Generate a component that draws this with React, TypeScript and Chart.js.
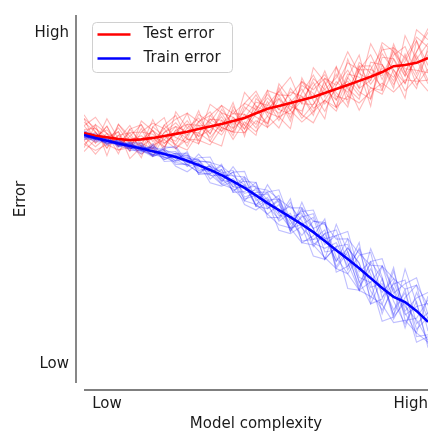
import React, { useEffect, useRef } from "react";
import { Chart, registerables } from "chart.js";

Chart.register(...registerables);

// Model complexity steps (x index)
const complexity: number[] = Array.from({ length: 31 }, (_, i) => i);

// Mean curves
const testErrorMean: number[] = [6.79, 6.72, 6.68, 6.63, 6.60, 6.62, 6.66, 6.71, 6.77, 6.83, 6.90, 6.97, 7.04, 7.12, 7.20, 7.33, 7.45, 7.53, 7.61, 7.69, 7.77, 7.88, 7.99, 8.10, 8.21, 8.32, 8.45, 8.61, 8.64, 8.70, 8.83];
const trainErrorMean: number[] = [6.74, 6.66, 6.58, 6.51, 6.44, 6.37, 6.30, 6.22, 6.14, 6.04, 5.92, 5.79, 5.65, 5.48, 5.30, 5.10, 4.89, 4.70, 4.51, 4.31, 4.10, 3.86, 3.61, 3.37, 3.12, 2.85, 2.58, 2.34, 2.20, 1.96, 1.66];

// Individual test-error realisations
const testRun1 = [6.99, 6.62, 6.98, 6.43, 6.70, 7.02, 6.56, 6.91, 6.47, 6.93, 7.20, 6.77, 7.44, 7.02, 7.40, 7.83, 7.25, 7.83, 7.21, 7.89, 8.37, 7.78, 8.39, 7.80, 8.71, 8.42, 8.05, 9.21, 8.44, 9.00, 9.53];
const testRun2 = [6.59, 6.82, 6.38, 6.73, 6.40, 6.52, 6.86, 6.41, 6.87, 6.63, 6.50, 7.17, 6.94, 6.82, 7.30, 7.03, 7.65, 7.13, 7.71, 7.19, 7.57, 8.18, 7.49, 8.30, 7.91, 7.72, 8.65, 8.21, 8.94, 8.10, 8.53];
const testRun3 = [6.79, 7.02, 6.78, 6.43, 6.90, 6.52, 6.36, 6.81, 7.07, 6.73, 7.10, 7.37, 6.84, 7.42, 6.90, 7.43, 7.85, 7.43, 7.91, 7.79, 7.37, 8.08, 8.59, 8.00, 7.71, 8.72, 8.65, 8.11, 8.74, 9.30, 8.63];
const testRun4 = [6.69, 6.42, 6.68, 6.83, 6.30, 6.82, 6.76, 6.51, 6.77, 7.13, 6.70, 6.87, 7.24, 6.72, 7.50, 7.23, 7.05, 7.73, 7.41, 8.09, 7.87, 7.38, 8.09, 8.50, 8.01, 8.22, 8.95, 8.51, 8.14, 8.90, 8.23];
const testRun5 = [7.09, 6.82, 6.48, 6.73, 6.80, 6.32, 6.96, 6.71, 6.57, 7.03, 7.00, 6.67, 7.04, 7.32, 7.30, 6.93, 7.55, 7.93, 7.51, 7.39, 8.07, 8.38, 7.79, 7.70, 8.51, 8.92, 8.25, 8.91, 9.14, 8.40, 9.03];
const testRun6 = [6.49, 6.72, 6.88, 6.53, 6.60, 6.72, 6.46, 7.01, 6.67, 6.53, 7.00, 6.97, 6.74, 7.22, 7.00, 7.53, 7.35, 7.23, 8.01, 7.59, 7.57, 7.98, 7.69, 8.40, 8.31, 8.02, 7.95, 8.81, 8.34, 8.80, 9.23];
const testRun7 = [6.89, 6.92, 6.58, 6.93, 6.50, 6.62, 6.86, 6.61, 6.97, 6.83, 6.80, 7.17, 7.14, 6.92, 7.20, 7.63, 7.55, 7.33, 7.61, 7.99, 7.47, 7.68, 8.19, 7.90, 8.61, 8.12, 8.55, 8.31, 8.84, 8.30, 8.93];
const testRun8 = [6.79, 6.52, 6.78, 6.63, 7.00, 6.42, 6.66, 6.41, 6.87, 7.03, 6.60, 7.07, 6.84, 7.12, 6.80, 7.33, 7.75, 7.43, 7.31, 7.69, 8.17, 7.58, 7.99, 8.20, 7.81, 8.52, 8.35, 9.01, 8.54, 8.50, 8.43];
const testRun9 = [7.19, 6.92, 6.68, 6.53, 6.80, 6.82, 7.06, 6.91, 7.17, 7.33, 7.10, 7.27, 7.54, 7.32, 7.60, 7.43, 7.95, 7.83, 7.81, 8.19, 7.97, 8.28, 8.09, 8.70, 8.51, 8.52, 9.05, 9.11, 8.84, 9.40, 9.13];
const testRun10 = [6.49, 6.32, 6.48, 6.33, 6.50, 6.22, 6.46, 6.61, 6.37, 6.63, 6.60, 6.47, 6.94, 6.82, 6.80, 7.13, 6.95, 7.23, 7.41, 7.09, 7.37, 7.68, 7.49, 7.80, 7.61, 7.92, 8.15, 7.91, 8.24, 8.20, 8.23];
const testRun11 = [7.19, 6.52, 7.18, 6.63, 6.30, 7.12, 6.86, 6.31, 7.37, 6.93, 6.70, 7.57, 7.34, 6.82, 7.90, 7.53, 6.95, 8.13, 7.71, 7.29, 8.57, 8.18, 7.49, 8.80, 8.01, 9.22, 8.65, 8.01, 9.44, 8.80, 8.13];
const testRun12 = [6.39, 7.02, 6.18, 7.03, 6.60, 6.12, 6.96, 7.21, 6.37, 6.73, 7.40, 6.57, 6.44, 7.52, 7.00, 6.73, 7.95, 7.23, 6.91, 8.29, 7.67, 7.18, 8.59, 7.60, 8.51, 7.52, 9.15, 8.41, 7.74, 9.30, 8.43];
const testRun13 = [6.99, 7.22, 6.78, 6.23, 6.90, 7.02, 6.36, 7.01, 7.27, 6.63, 7.30, 7.07, 7.54, 6.92, 7.60, 7.93, 7.35, 7.93, 8.31, 7.59, 8.27, 7.98, 8.29, 9.00, 8.41, 8.22, 9.25, 9.01, 8.34, 9.60, 9.33];
const testRun14 = [6.59, 6.22, 6.58, 6.83, 6.10, 6.42, 6.16, 6.71, 6.47, 6.33, 6.80, 6.57, 7.14, 6.62, 7.10, 6.83, 7.25, 6.93, 7.61, 7.29, 7.07, 7.68, 7.39, 8.10, 7.41, 8.02, 7.85, 8.51, 7.94, 8.30, 7.93];
const testRun15 = [7.29, 6.82, 6.38, 7.03, 6.70, 6.42, 7.16, 6.51, 6.77, 7.33, 6.50, 7.27, 6.94, 7.62, 6.70, 7.73, 7.45, 7.73, 7.11, 8.19, 7.77, 8.48, 7.69, 8.30, 8.91, 7.72, 8.85, 8.81, 8.14, 9.00, 9.63];
const testRun16 = [6.29, 6.62, 6.98, 6.33, 6.40, 6.92, 6.26, 6.81, 6.97, 6.43, 7.10, 6.77, 7.34, 7.22, 6.90, 7.43, 7.05, 8.03, 7.41, 7.79, 7.27, 8.28, 7.89, 7.50, 8.61, 8.62, 7.95, 9.11, 8.44, 8.00, 9.13];

// Individual train-error realisations
const trainRun1 = [6.79, 6.63, 6.64, 6.46, 6.48, 6.45, 6.25, 6.32, 6.02, 6.10, 6.07, 5.69, 5.90, 5.40, 5.48, 5.45, 4.74, 4.95, 4.16, 4.51, 4.60, 3.76, 4.01, 3.07, 3.67, 2.95, 2.13, 3.04, 1.95, 2.31, 2.46];
const trainRun2 = [6.70, 6.68, 6.51, 6.54, 6.39, 6.35, 6.38, 6.07, 6.19, 5.94, 5.72, 5.89, 5.57, 5.23, 5.38, 4.85, 5.04, 4.40, 4.61, 3.86, 3.90, 4.16, 3.11, 3.57, 2.77, 2.15, 2.83, 1.84, 2.55, 1.26, 1.31];
const trainRun3 = [6.74, 6.73, 6.60, 6.46, 6.51, 6.34, 6.18, 6.27, 6.29, 5.99, 6.02, 6.01, 5.50, 5.73, 5.05, 5.18, 5.19, 4.62, 4.81, 4.41, 3.70, 4.06, 4.16, 3.27, 2.52, 3.30, 2.83, 1.74, 2.32, 2.66, 1.41];
const trainRun4 = [6.72, 6.59, 6.58, 6.56, 6.37, 6.42, 6.35, 6.12, 6.14, 6.19, 5.82, 5.74, 5.80, 5.18, 5.55, 5.02, 4.59, 4.85, 4.31, 4.71, 4.20, 3.36, 3.71, 3.77, 2.87, 2.73, 3.18, 2.22, 1.60, 2.21, 0.96];
const trainRun5 = [6.81, 6.68, 6.53, 6.53, 6.49, 6.30, 6.45, 6.22, 6.04, 6.14, 5.97, 5.64, 5.65, 5.63, 5.38, 4.80, 4.97, 5.00, 4.41, 4.01, 4.40, 4.36, 3.41, 2.97, 3.47, 3.55, 2.33, 2.69, 2.80, 1.61, 1.91];
const trainRun6 = [6.67, 6.66, 6.63, 6.49, 6.44, 6.39, 6.20, 6.37, 6.09, 5.89, 5.97, 5.79, 5.40, 5.56, 5.15, 5.25, 4.81, 4.45, 4.91, 4.21, 3.90, 3.96, 3.31, 3.67, 3.24, 2.50, 1.98, 2.59, 1.85, 2.08, 2.16];
const trainRun7 = [6.76, 6.71, 6.56, 6.58, 6.42, 6.37, 6.40, 6.17, 6.24, 6.04, 5.87, 5.89, 5.73, 5.33, 5.30, 5.35, 4.97, 4.55, 4.51, 4.61, 3.80, 3.66, 3.81, 3.17, 3.62, 2.60, 2.70, 1.99, 2.45, 1.46, 1.78];
const trainRun8 = [6.74, 6.61, 6.60, 6.51, 6.54, 6.32, 6.30, 6.07, 6.19, 6.14, 5.77, 5.84, 5.50, 5.48, 5.00, 5.10, 5.14, 4.62, 4.21, 4.31, 4.50, 3.56, 3.61, 3.47, 2.62, 3.10, 2.46, 2.84, 2.08, 1.71, 1.16];
const trainRun9 = [6.78, 6.71, 6.60, 6.54, 6.49, 6.41, 6.40, 6.34, 6.22, 6.19, 6.04, 5.99, 5.90, 5.63, 5.60, 5.30, 5.24, 5.00, 4.76, 4.76, 4.40, 4.31, 3.91, 3.92, 3.52, 3.20, 3.18, 2.84, 2.55, 2.66, 2.11];
const trainRun10 = [6.69, 6.62, 6.53, 6.48, 6.38, 6.32, 6.20, 6.14, 5.99, 5.94, 5.72, 5.67, 5.40, 5.28, 4.95, 4.85, 4.59, 4.30, 4.21, 3.81, 3.75, 3.41, 3.11, 2.97, 2.52, 2.35, 2.13, 1.64, 1.70, 1.36, 1.11];
const trainRun11 = [6.84, 6.61, 6.70, 6.43, 6.54, 6.52, 6.20, 6.42, 6.39, 5.89, 6.22, 5.89, 5.45, 5.88, 5.45, 4.80, 5.39, 4.90, 4.11, 4.91, 4.20, 3.36, 4.31, 3.57, 2.52, 3.65, 2.88, 1.84, 3.10, 2.16, 1.06];
const trainRun12 = [6.64, 6.74, 6.46, 6.61, 6.39, 6.22, 6.45, 6.02, 6.04, 6.29, 5.67, 5.69, 5.95, 5.18, 5.20, 5.45, 4.49, 4.50, 5.01, 3.81, 4.00, 4.46, 3.01, 3.17, 3.82, 2.15, 2.28, 3.14, 1.70, 1.76, 2.26];
const trainRun13 = [6.79, 6.78, 6.64, 6.41, 6.52, 6.49, 6.18, 6.37, 6.44, 5.99, 6.12, 6.14, 5.55, 5.73, 5.75, 4.95, 5.19, 5.25, 4.41, 4.66, 4.70, 3.91, 4.01, 4.12, 3.02, 3.30, 3.38, 2.44, 2.70, 2.86, 1.86];
const trainRun14 = [6.69, 6.56, 6.55, 6.57, 6.32, 6.32, 6.15, 6.27, 5.89, 5.74, 5.97, 5.44, 5.35, 5.48, 4.85, 4.70, 4.94, 4.15, 4.06, 4.26, 3.45, 3.36, 3.71, 2.57, 2.52, 2.75, 1.68, 1.79, 2.20, 1.11, 1.26];
const trainRun15 = [6.86, 6.69, 6.50, 6.61, 6.44, 6.27, 6.50, 6.12, 6.24, 6.24, 5.67, 5.94, 5.70, 5.78, 4.95, 5.30, 4.89, 5.10, 4.11, 4.56, 4.20, 4.36, 3.16, 3.67, 3.27, 2.30, 3.18, 2.54, 1.50, 2.46, 1.76];
const trainRun16 = [6.62, 6.64, 6.68, 6.45, 6.36, 6.45, 6.15, 6.32, 5.94, 5.94, 6.07, 5.54, 5.80, 5.33, 5.60, 4.80, 4.74, 5.00, 4.21, 4.76, 3.75, 4.06, 3.31, 3.92, 2.72, 3.25, 1.88, 2.74, 1.90, 1.36, 2.36];

const testRuns = [testRun1, testRun2, testRun3, testRun4, testRun5, testRun6, testRun7, testRun8, testRun9, testRun10, testRun11, testRun12, testRun13, testRun14, testRun15, testRun16];
const trainRuns = [trainRun1, trainRun2, trainRun3, trainRun4, trainRun5, trainRun6, trainRun7, trainRun8, trainRun9, trainRun10, trainRun11, trainRun12, trainRun13, trainRun14, trainRun15, trainRun16];

// Axis tick labels
const xTickValues = [2, 28.5];
const xTickLabels = ["Low", "High"];
const yTickValues = [0.5, 9.5];
const yTickLabels = ["Low", "High"];

const legendLabels = ["Test error", "Train error"];
const legendColors = ["#ff0000", "#0000ff"];

const FONT = "'DejaVu Sans', sans-serif";

const toPoints = (arr: number[]) => arr.map((v, i) => ({ x: complexity[i], y: v }));

export default function App() {
  const ref = useRef<HTMLCanvasElement | null>(null);

  useEffect(() => {
    document.body.style.margin = "0";
    const canvas = ref.current;
    if (!canvas) return;

    const datasets: any[] = [];
    testRuns.forEach((r) =>
      datasets.push({
        data: toPoints(r),
        borderColor: "rgba(255,0,0,0.27)",
        borderWidth: 1.1,
        pointRadius: 0,
        order: 4,
      })
    );
    trainRuns.forEach((r) =>
      datasets.push({
        data: toPoints(r),
        borderColor: "rgba(0,0,255,0.25)",
        borderWidth: 1.1,
        pointRadius: 0,
        order: 3,
      })
    );
    datasets.push({
      label: legendLabels[0],
      data: toPoints(testErrorMean),
      borderColor: legendColors[0],
      borderWidth: 2.6,
      pointRadius: 0,
      order: 2,
    });
    datasets.push({
      label: legendLabels[1],
      data: toPoints(trainErrorMean),
      borderColor: legendColors[1],
      borderWidth: 2.6,
      pointRadius: 0,
      order: 1,
    });

    const spinesAndLegend = {
      id: "spinesAndLegend",
      afterDraw(chart: any) {
        const { ctx, chartArea } = chart;
        ctx.save();
        // offset spines
        ctx.strokeStyle = "#555555";
        ctx.lineWidth = 1.4;
        ctx.beginPath();
        ctx.moveTo(chartArea.left - 8, chartArea.top);
        ctx.lineTo(chartArea.left - 8, chartArea.bottom);
        ctx.moveTo(chartArea.left, chartArea.bottom + 7);
        ctx.lineTo(chartArea.right, chartArea.bottom + 7);
        ctx.stroke();

        // legend
        const bx = chartArea.left + 8.5;
        const by = chartArea.top + 7.5;
        const bw = 140;
        const bh = 50;
        const r = 4;
        ctx.beginPath();
        ctx.moveTo(bx + r, by);
        ctx.lineTo(bx + bw - r, by);
        ctx.arcTo(bx + bw, by, bx + bw, by + r, r);
        ctx.lineTo(bx + bw, by + bh - r);
        ctx.arcTo(bx + bw, by + bh, bx + bw - r, by + bh, r);
        ctx.lineTo(bx + r, by + bh);
        ctx.arcTo(bx, by + bh, bx, by + bh - r, r);
        ctx.lineTo(bx, by + r);
        ctx.arcTo(bx, by, bx + r, by, r);
        ctx.closePath();
        ctx.fillStyle = "rgba(255,255,255,0.85)";
        ctx.fill();
        ctx.strokeStyle = "#d0d0d0";
        ctx.lineWidth = 1;
        ctx.stroke();

        ctx.font = `15px ${FONT}`;
        ctx.textBaseline = "middle";
        ctx.textAlign = "left";
        legendLabels.forEach((lab, k) => {
          const ly = by + 12 + k * 24;
          ctx.strokeStyle = legendColors[k];
          ctx.lineWidth = 2.5;
          ctx.beginPath();
          ctx.moveTo(bx + 5, ly);
          ctx.lineTo(bx + 38, ly);
          ctx.stroke();
          ctx.fillStyle = "#1a1a1a";
          ctx.fillText(lab, bx + 51, ly);
        });
        ctx.restore();
      },
    };

    const chart = new Chart(canvas, {
      type: "line",
      data: { datasets },
      options: {
        animation: false,
        responsive: false,
        maintainAspectRatio: false,
        devicePixelRatio: 1,
        layout: { padding: { top: 15, left: 0, right: 0, bottom: 0 } },
        plugins: {
          legend: { display: false },
          tooltip: { enabled: false },
        },
        elements: { line: { tension: 0 } },
        scales: {
          x: {
            type: "linear",
            min: 0,
            max: 30,
            grid: { display: false, drawTicks: false },
            border: { display: false },
            afterFit(scale: any) {
              scale.height = 50;
              scale.paddingLeft = 0;
              scale.paddingRight = 0;
            },
            afterBuildTicks(scale: any) {
              scale.ticks = xTickValues.map((v) => ({ value: v }));
            },
            ticks: {
              autoSkip: false,
              maxRotation: 0,
              padding: 12,
              color: "#1a1a1a",
              font: { family: FONT, size: 15 },
              callback: (v: any) => {
                const idx = xTickValues.indexOf(Number(v));
                return idx >= 0 ? xTickLabels[idx] : "";
              },
            },
            title: {
              display: true,
              text: "Model complexity",
              color: "#1a1a1a",
              font: { family: FONT, size: 15 },
              padding: { top: 0, bottom: 0 },
            },
          },
          y: {
            type: "linear",
            min: 0,
            max: 10,
            grid: { display: false, drawTicks: false },
            border: { display: false },
            afterFit(scale: any) {
              scale.width = 84;
              scale.paddingTop = 0;
              scale.paddingBottom = 0;
            },
            afterBuildTicks(scale: any) {
              scale.ticks = yTickValues.map((v) => ({ value: v }));
            },
            ticks: {
              autoSkip: false,
              padding: 15,
              color: "#1a1a1a",
              font: { family: FONT, size: 15 },
              callback: (v: any) => {
                const idx = yTickValues.indexOf(Number(v));
                return idx >= 0 ? yTickLabels[idx] : "";
              },
            },
            title: {
              display: true,
              text: "Error",
              color: "#1a1a1a",
              font: { family: FONT, size: 15 },
              padding: { top: 12, bottom: 0 },
            },
          },
        },
      },
      plugins: [spinesAndLegend],
    });

    return () => chart.destroy();
  }, []);

  return (
    <div style={{ width: 428, height: 433, position: "relative" }}>
      <canvas ref={ref} width={428} height={433} style={{ display: "block" }} />
    </div>
  );
}
